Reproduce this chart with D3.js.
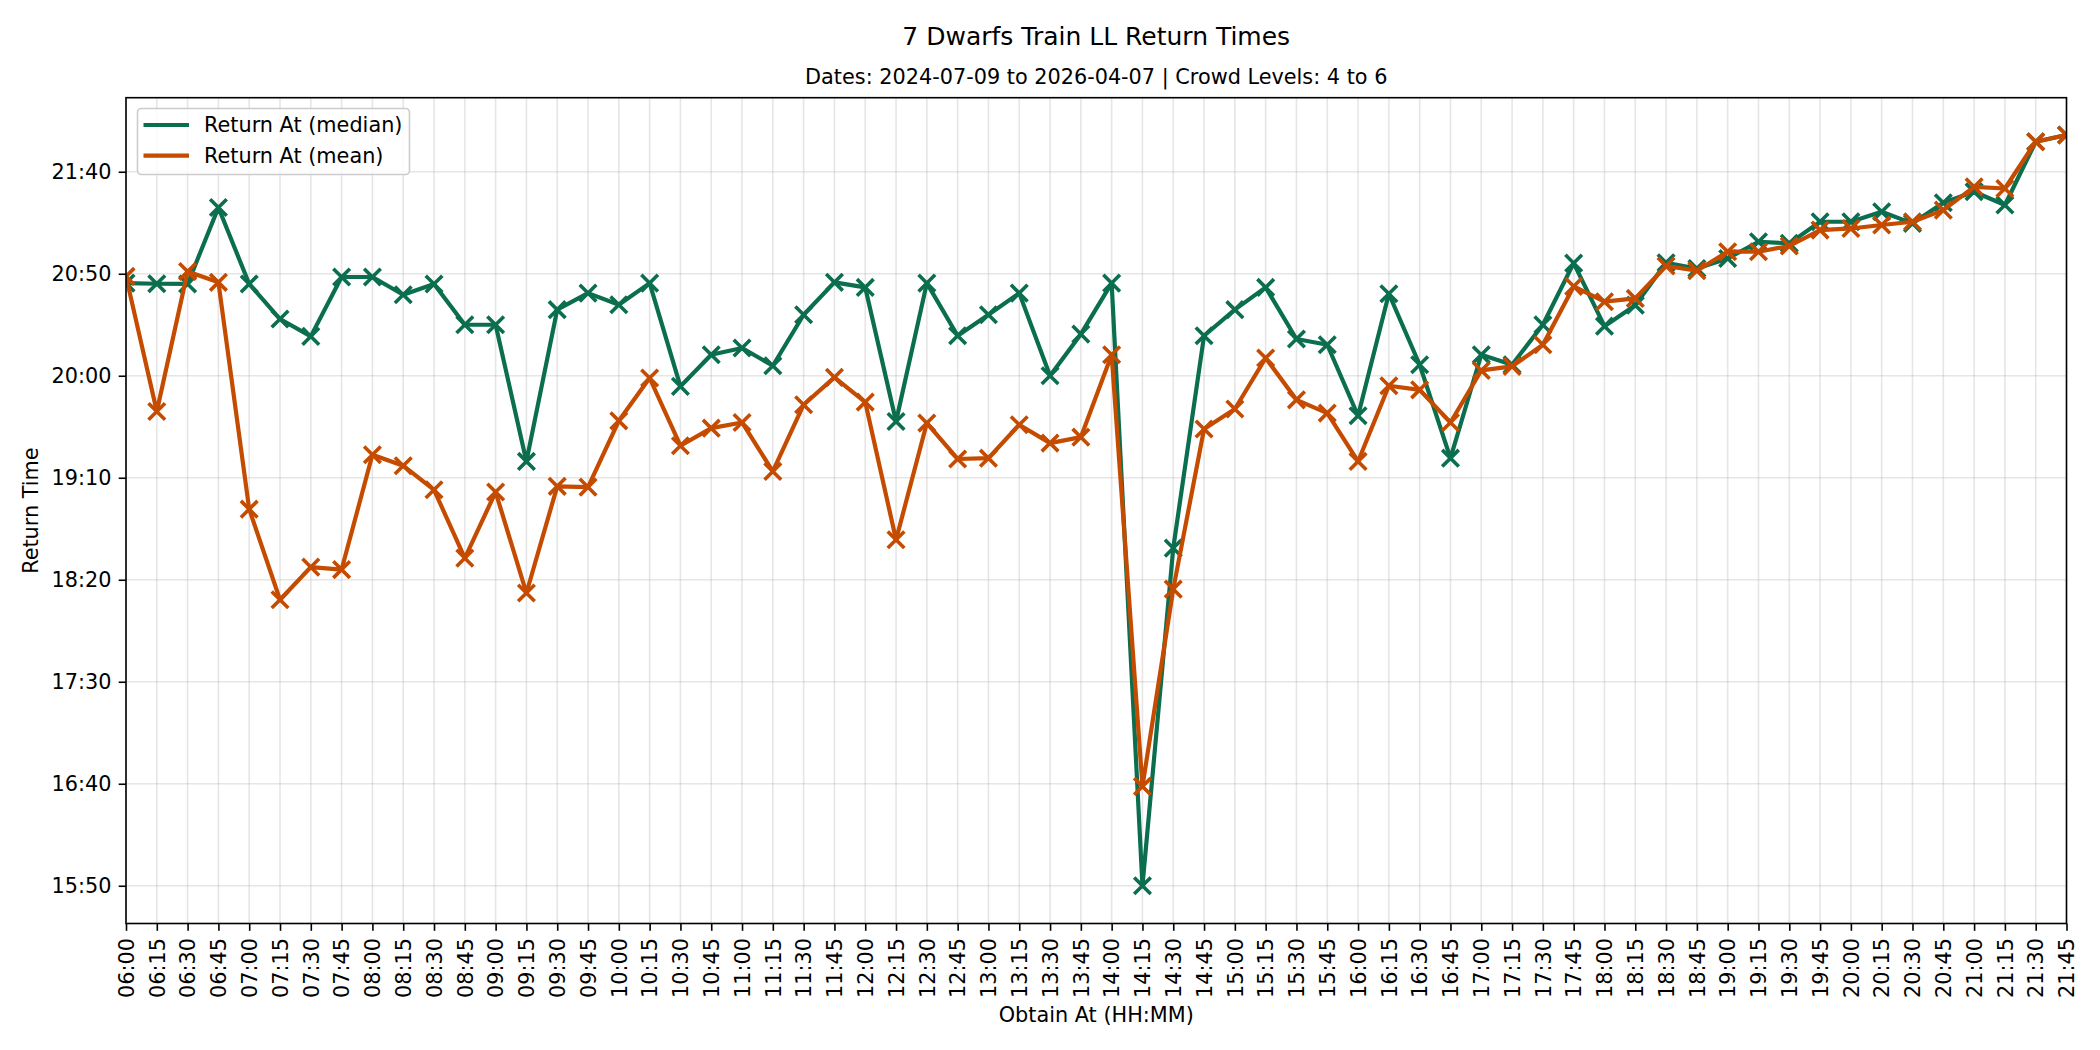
<!DOCTYPE html>
<html>
<head>
<meta charset="utf-8">
<script src="https://cdn.jsdelivr.net/npm/d3@7"></script>
<style>
  html, body { margin: 0; padding: 0; background: #fff; }
  svg { display: block; font-family: "DejaVu Sans", sans-serif; }
</style>
</head>
<body>
<svg id="chart" width="2100" height="1050"></svg>
<script>
// ---- data ----
const obtainTimes = [
  "06:00","06:15","06:30","06:45","07:00","07:15","07:30","07:45",
  "08:00","08:15","08:30","08:45","09:00","09:15","09:30","09:45",
  "10:00","10:15","10:30","10:45","11:00","11:15","11:30","11:45",
  "12:00","12:15","12:30","12:45","13:00","13:15","13:30","13:45",
  "14:00","14:15","14:30","14:45","15:00","15:15","15:30","15:45",
  "16:00","16:15","16:30","16:45","17:00","17:15","17:30","17:45",
  "18:00","18:15","18:30","18:45","19:00","19:15","19:30","19:45",
  "20:00","20:15","20:30","20:45","21:00","21:15","21:30","21:45"
];
// return time in minutes since midnight
const medianReturn = [
  1245.4, 1245.1, 1245.0, 1282.5, 1245.0, 1227.8, 1219.3, 1248.4,
  1248.4, 1239.7, 1245.0, 1225.0, 1225.0, 1158.0, 1232.4, 1240.5,
  1234.8, 1245.4, 1194.8, 1210.3, 1213.6, 1204.9, 1229.9, 1245.8,
  1243.3, 1177.6, 1245.4, 1219.6, 1229.9, 1240.5, 1200.0, 1220.4,
  1245.4,  950.0, 1115.5, 1219.6, 1232.4, 1243.3, 1218.0, 1215.2,
  1180.4, 1240.2, 1205.4, 1159.6, 1210.3, 1205.4, 1225.0, 1255.2,
  1224.3, 1234.6, 1255.4, 1252.6, 1257.5, 1265.7, 1264.9, 1275.5,
  1275.5, 1280.4, 1274.7, 1284.8, 1290.2, 1283.7, 1314.7, 1318.0
];
const meanReturn = [
  1248.7, 1182.5, 1251.1, 1245.8, 1134.6, 1090.2, 1106.2, 1105.0,
  1161.3, 1155.9, 1144.1, 1110.6, 1143.0, 1093.5, 1145.8, 1145.4,
  1177.9, 1198.9, 1165.7, 1174.3, 1177.1, 1153.1, 1185.8, 1199.2,
  1187.1, 1119.6, 1176.8, 1159.2, 1159.6, 1176.0, 1167.0, 1169.9,
  1210.3,  998.7, 1095.4, 1173.9, 1183.7, 1208.7, 1188.2, 1181.7,
  1158.0, 1195.1, 1193.1, 1177.1, 1202.6, 1204.6, 1215.2, 1243.8,
  1236.3, 1237.9, 1253.8, 1251.5, 1260.8, 1260.8, 1263.6, 1271.4,
  1272.2, 1273.9, 1275.5, 1281.2, 1292.6, 1291.8, 1314.7, 1318.0
];
const yTickValues = [950, 1000, 1050, 1100, 1150, 1200, 1250, 1300];
const seriesNames = ["Return At (median)", "Return At (mean)"];
const seriesColors = ["#0b6e4f", "#c44b00"];
const titleText = "7 Dwarfs Train LL Return Times";
const subtitleText = "Dates: 2024-07-09 to 2026-04-07 | Crowd Levels: 4 to 6";

// ---- layout ----
const L = 126, R = 2066.5, T = 97.7, B = 923.5;
const svg = d3.select("#chart");

const x = d3.scalePoint().domain(obtainTimes).range([L, R]).padding(0);
const y = d3.scaleLinear().domain([931.5, 1336.3]).range([B, T]);

const fmt = m => {
  const h = Math.floor(m / 60), mm = Math.round(m - h * 60);
  return String(h).padStart(2, "0") + ":" + String(mm).padStart(2, "0");
};

// grid
const grid = svg.append("g");
grid.selectAll("line.v").data(obtainTimes).join("line")
  .attr("x1", d => x(d)).attr("x2", d => x(d))
  .attr("y1", T).attr("y2", B)
  .attr("stroke", "#b0b0b0").attr("stroke-opacity", 0.32).attr("stroke-width", 1.6);
grid.selectAll("line.h").data(yTickValues).join("line")
  .attr("x1", L).attr("x2", R)
  .attr("y1", d => y(d)).attr("y2", d => y(d))
  .attr("stroke", "#b0b0b0").attr("stroke-opacity", 0.32).attr("stroke-width", 1.6);

// axes
const xAxis = d3.axisBottom(x).tickSize(7.3).tickPadding(7.3);
const gx = svg.append("g").attr("transform", `translate(0,${B})`).call(xAxis);
gx.select(".domain").remove();
gx.selectAll(".tick line").attr("stroke", "#000").attr("stroke-width", 1.6);
gx.selectAll(".tick text")
  .attr("font-size", "20.8px").attr("font-family", "DejaVu Sans").attr("fill", "#000")
  .attr("transform", "rotate(-90)")
  .attr("text-anchor", "end")
  .attr("x", -14.6).attr("y", 0).attr("dy", "0.35em");

const yAxis = d3.axisLeft(y).tickValues(yTickValues).tickFormat(fmt).tickSize(7.3).tickPadding(7.3);
const gy = svg.append("g").attr("transform", `translate(${L},0)`).call(yAxis);
gy.select(".domain").remove();
gy.selectAll(".tick line").attr("stroke", "#000").attr("stroke-width", 1.6);
gy.selectAll(".tick text")
  .attr("font-size", "20.8px").attr("font-family", "DejaVu Sans").attr("fill", "#000");

// lines + markers
svg.append("clipPath").attr("id", "plotclip")
  .append("rect").attr("x", L).attr("y", T).attr("width", R - L).attr("height", B - T);

const plot = svg.append("g").attr("clip-path", "url(#plotclip)");
const allSeries = [medianReturn, meanReturn];
const line = d3.line().x((d, i) => x(obtainTimes[i])).y(d => y(d));
const ms = 8.3;
allSeries.forEach((vals, si) => {
  plot.append("path").datum(vals)
    .attr("d", line).attr("fill", "none")
    .attr("stroke", seriesColors[si]).attr("stroke-width", 4.2)
    .attr("stroke-linejoin", "round").attr("stroke-linecap", "square");
  const mk = plot.append("g");
  mk.selectAll("path").data(vals).join("path")
    .attr("d", (d, i) => {
      const cx = x(obtainTimes[i]), cy = y(d);
      return `M${cx - ms},${cy - ms}L${cx + ms},${cy + ms}M${cx - ms},${cy + ms}L${cx + ms},${cy - ms}`;
    })
    .attr("stroke", seriesColors[si]).attr("stroke-width", 3.6).attr("fill", "none");
});

// spines
svg.append("rect").attr("x", L).attr("y", T).attr("width", R - L).attr("height", B - T)
  .attr("fill", "none").attr("stroke", "#000").attr("stroke-width", 1.6);

// legend
const lg = svg.append("g");
lg.append("rect").attr("x", 137.5).attr("y", 108.5).attr("width", 272).attr("height", 66)
  .attr("rx", 4).attr("fill", "#fff").attr("fill-opacity", 0.8)
  .attr("stroke", "#cccccc").attr("stroke-width", 1.6);
seriesNames.forEach((name, i) => {
  const ly = 125 + i * 30.7;
  lg.append("line").attr("x1", 143.5).attr("x2", 189).attr("y1", ly).attr("y2", ly)
    .attr("stroke", seriesColors[i]).attr("stroke-width", 4.2);
  lg.append("text").attr("x", 204).attr("y", ly).attr("dy", "0.35em")
    .attr("font-size", "20.8px").attr("fill", "#000").text(name);
});

// titles and labels
const cxAxes = (L + R) / 2;
svg.append("text").attr("x", cxAxes).attr("y", 44.5).attr("text-anchor", "middle")
  .attr("font-size", "25px").attr("fill", "#000").text(titleText);
svg.append("text").attr("x", cxAxes).attr("y", 84).attr("text-anchor", "middle")
  .attr("font-size", "20.8px").attr("fill", "#000").text(subtitleText);
svg.append("text").attr("x", cxAxes).attr("y", 1015).attr("dy", "0.35em")
  .attr("text-anchor", "middle").attr("font-size", "20.8px").attr("fill", "#000")
  .text("Obtain At (HH:MM)");
svg.append("text").attr("transform", `translate(31,${(T + B) / 2}) rotate(-90)`)
  .attr("dy", "0.35em").attr("text-anchor", "middle")
  .attr("font-size", "20.8px").attr("fill", "#000").text("Return Time");
</script>
</body>
</html>
